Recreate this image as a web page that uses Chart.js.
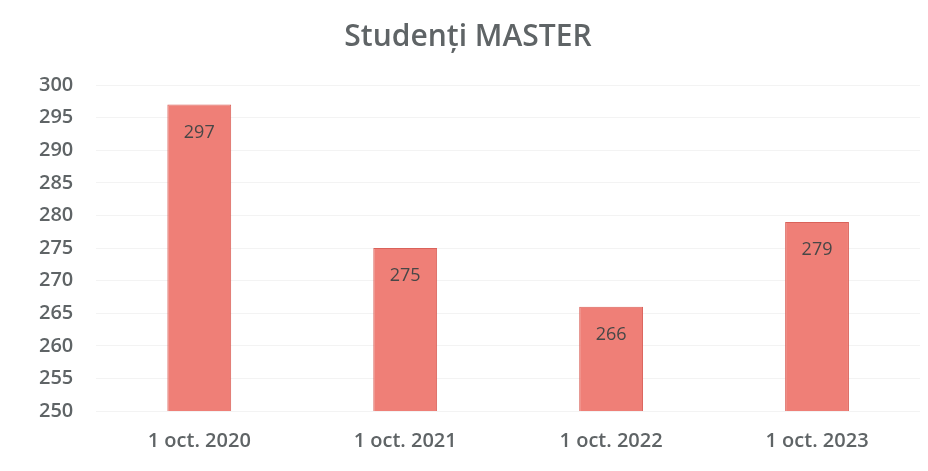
<!DOCTYPE html>
<html>
<head>
<meta charset="utf-8">
<script src="https://cdn.jsdelivr.net/npm/chart.js@4/dist/chart.umd.min.js"></script>
<style>
  body { margin: 0; background: #fff; }
  .wrap { position: relative; width: 928px; height: 471px; }
</style>
</head>
<body>
<div class="wrap"><canvas id="myChart"></canvas></div>
<script>
const categories = ["1 oct. 2020", "1 oct. 2021", "1 oct. 2022", "1 oct. 2023"];
const students = [297, 275, 266, 279];
const yTicks = [250, 255, 260, 265, 270, 275, 280, 285, 290, 295, 300];

const textColor = "#5f6466";
const fontFamily = "'Open Sans', 'Noto Sans', sans-serif";

// labels inside the top of each bar
const barLabels = {
  id: "barLabels",
  afterDatasetsDraw(chart) {
    const ctx = chart.ctx;
    const meta = chart.getDatasetMeta(0);
    ctx.save();
    ctx.font = "18px " + fontFamily;
    ctx.fillStyle = "#474747";
    ctx.textAlign = "center";
    ctx.textBaseline = "middle";
    meta.data.forEach((bar, i) => {
      ctx.fillText(String(students[i]), bar.x, bar.y + 28);
    });
    ctx.restore();
  }
};

new Chart(document.getElementById("myChart"), {
  type: "bar",
  data: {
    labels: categories,
    datasets: [{
      label: "Studenți MASTER",
      data: students,
      backgroundColor: "#ef7f77",
      borderColor: "#da625a",
      borderWidth: 1,
      categoryPercentage: 1,
      barPercentage: 0.31
    }]
  },
  options: {
    responsive: true,
    maintainAspectRatio: false,
    animation: false,
    layout: { padding: { left: 16, right: 8, top: 0, bottom: 8 } },
    plugins: {
      legend: { display: false },
      tooltip: { enabled: false },
      title: {
        display: true,
        text: "Studenți MASTER",
        color: textColor,
        font: { family: fontFamily, size: 30, weight: "600" },
        padding: { top: 19, bottom: 30 }
      }
    },
    scales: {
      x: {
        grid: { display: false },
        border: { display: false },
        ticks: {
          color: textColor,
          font: { family: fontFamily, size: 20, weight: "600" },
          padding: 10,
          maxRotation: 0,
          minRotation: 0
        }
      },
      y: {
        min: yTicks[0],
        max: yTicks[yTicks.length - 1],
        afterBuildTicks(axis) {
          axis.ticks = yTicks.map(v => ({ value: v }));
        },
        grid: { color: "#f3f3f3", drawTicks: false },
        border: { display: false },
        ticks: {
          color: textColor,
          font: { family: fontFamily, size: 20, weight: "600" },
          padding: 23
        }
      }
    }
  },
  plugins: [barLabels]
});
</script>
</body>
</html>
